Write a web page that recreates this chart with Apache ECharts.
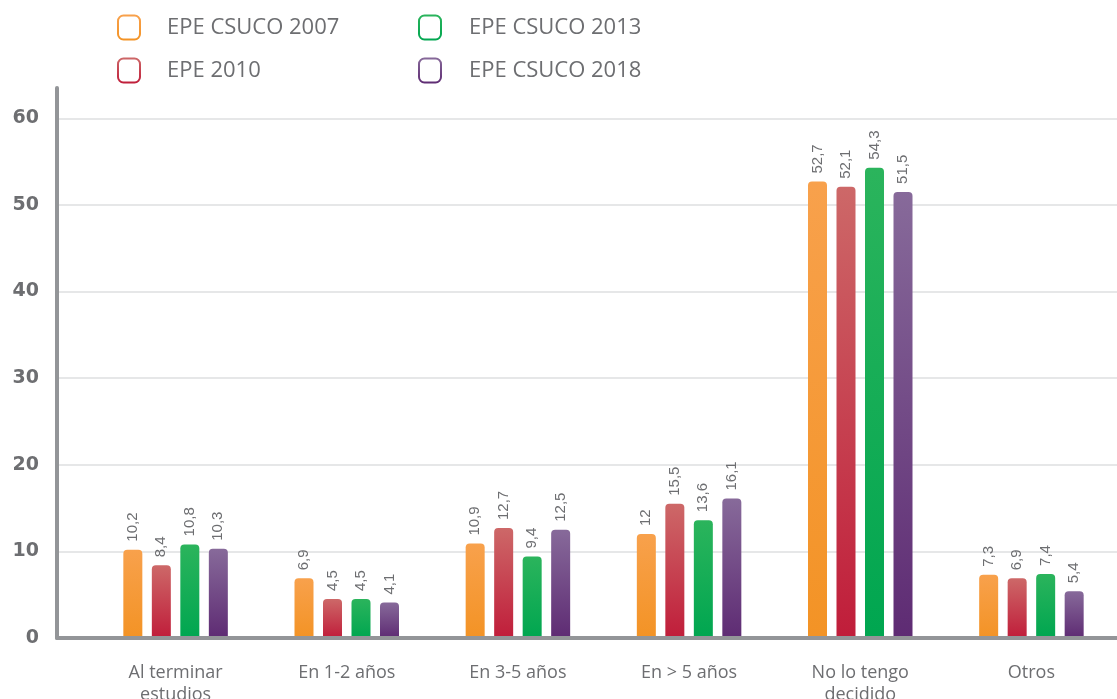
<!DOCTYPE html>
<html lang="es">
<head>
<meta charset="UTF-8">
<title>EPE CSUCO</title>
<script src="https://cdn.jsdelivr.net/npm/echarts@6.0.0/dist/echarts.min.js"></script>
<style>
    html, body { margin: 0; padding: 0; background: #fff; }
    #chart { width: 1117px; height: 699px; }
</style>
</head>
<body>
<div id="chart"></div>
<script>
    // datos
    const categories = ['Al terminar\nestudios', 'En 1-2 años', 'En 3-5 años', 'En > 5 años', 'No lo tengo\ndecidido', 'Otros'];
    const csuco2007 = [10.2, 6.9, 10.9, 12, 52.7, 7.3];
    const epe2010 = [8.4, 4.5, 12.7, 15.5, 52.1, 6.9];
    const csuco2013 = [10.8, 4.5, 9.4, 13.6, 54.3, 7.4];
    const csuco2018 = [10.3, 4.1, 12.5, 16.1, 51.5, 5.4];
    const seriesNames = ['EPE CSUCO 2007', 'EPE 2010', 'EPE CSUCO 2013', 'EPE CSUCO 2018'];

    const textColor = '#6d6e71';
    const yMax = 63.5;

    const colors = [
        ['#f8a14c', '#f39325'],
        ['#cd6868', '#c01d3a'],
        ['#2bb45c', '#00a650'],
        ['#876a9a', '#5e2b73']
    ];

    function grad(c) {
        return new echarts.graphic.LinearGradient(0, 0, 0, 1, [
            { offset: 0, color: c[0] },
            { offset: 1, color: c[1] }
        ]);
    }

    function legendItem(i) {
        return {
            name: seriesNames[i],
            itemStyle: { color: '#fff', borderColor: grad(colors[i]), borderWidth: 2 }
        };
    }

    function legend(left, pad, items) {
        return {
            orient: 'vertical',
            left: left,
            top: 14,
            padding: 0,
            itemWidth: 22,
            itemHeight: 24,
            itemGap: 16,
            icon: 'roundRect',
            selectedMode: false,
            textStyle: {
                color: textColor, fontSize: 22, fontFamily: 'Open Sans',
                lineHeight: 24, padding: [3, 0, 0, pad]
            },
            data: items
        };
    }

    const data = [csuco2007, epe2010, csuco2013, csuco2018];

    const chart = echarts.init(document.getElementById('chart'));
    chart.setOption({
        animation: false,
        legend: [
            legend(117, 22, [legendItem(0), legendItem(1)]),
            legend(418, 23, [legendItem(2), legendItem(3)])
        ],
        grid: [
            { left: 57, right: 0, top: 88, bottom: 61, outerBoundsMode: 'none' },
            { left: 90, right: 0, top: 88, bottom: 61, outerBoundsMode: 'none' }
        ],
        xAxis: [
            {
                gridIndex: 0,
                type: 'category',
                data: categories,
                z: 10,
                axisLine: { lineStyle: { color: '#939598', width: 4 } },
                axisTick: { show: false },
                axisLabel: { show: false },
                splitLine: { show: false }
            },
            {
                gridIndex: 1,
                type: 'category',
                data: categories,
                axisLine: { show: false },
                axisTick: { show: false },
                axisLabel: {
                    color: textColor,
                    fontSize: 18,
                    fontFamily: 'Open Sans',
                    margin: 24,
                    lineHeight: 22
                }
            }
        ],
        yAxis: [
            {
                gridIndex: 0,
                type: 'value',
                min: 0,
                max: yMax,
                interval: 10,
                axisLine: { show: true, lineStyle: { color: '#939598', width: 4 } },
                axisTick: { show: false },
                splitLine: { show: true, showMaxLine: false, lineStyle: { color: '#e6e7e8', width: 2 } },
                axisLabel: {
                    color: textColor,
                    fontSize: 19,
                    fontWeight: 'bold',
                    fontFamily: 'DejaVu Sans',
                    margin: 18,
                    formatter: v => (v % 10 === 0 ? String(v) : '')
                }
            },
            {
                gridIndex: 1,
                type: 'value',
                min: 0,
                max: yMax,
                show: false
            }
        ],
        series: data.map((vals, i) => ({
            name: seriesNames[i],
            type: 'bar',
            xAxisIndex: 1,
            yAxisIndex: 1,
            data: vals,
            barWidth: 19,
            barGap: '50%',
            itemStyle: { color: grad(colors[i]), borderRadius: [4, 4, 0, 0] },
            label: {
                show: true,
                position: 'top',
                rotate: 90,
                align: 'left',
                verticalAlign: 'middle',
                distance: 8,
                color: textColor,
                fontSize: 15,
                fontFamily: 'Liberation Sans',
                formatter: p => String(p.value).replace('.', ',')
            }
        }))
    });
</script>
</body>
</html>
